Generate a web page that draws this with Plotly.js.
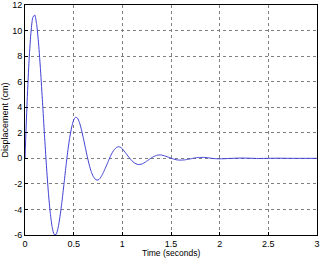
<!DOCTYPE html>
<html>
<head>
<meta charset="utf-8">
<script src="https://cdn.plot.ly/plotly-3.0.1.min.js"></script>
<style>html,body{margin:0;padding:0;background:#fff;}#chart{width:323px;height:258px;}</style>
</head>
<body>
<div id="chart"></div>
<script>
var timeSec = [0,0.02,0.04,0.06,0.08,0.10,0.12,0.14,0.16,0.18,0.20,0.22,0.24,0.26,0.28,0.30,0.32,0.34,0.36,0.38,0.40,0.42,0.44,0.46,0.48,0.50,0.52,0.54,0.56,0.58,0.60,0.62,0.64,0.66,0.68,0.70,0.72,0.74,0.76,0.78,0.80,0.82,0.84,0.86,0.88,0.90,0.92,0.94,0.96,0.98,1.00,1.04,1.08,1.12,1.16,1.20,1.24,1.28,1.32,1.36,1.40,1.44,1.48,1.52,1.56,1.60,1.64,1.68,1.72,1.76,1.80,1.84,1.88,1.92,1.96,2.00,2.10,2.20,2.30,2.40,2.50,2.60,2.70,2.80,2.90,3.00];
var displacementCm = [0,4.10,7.41,9.74,11.01,11.22,10.47,8.94,6.84,4.39,1.85,-0.56,-2.66,-4.31,-5.42,-5.96,-5.95,-5.44,-4.53,-3.36,-2.04,-0.67,0.59,1.65,2.45,3.00,3.22,3.14,2.79,2.24,1.56,0.84,0.13,-0.51,-1.03,-1.40,-1.62,-1.71,-1.65,-1.47,-1.19,-0.86,-0.51,-0.15,0.20,0.49,0.71,0.85,0.91,0.87,0.75,0.36,-0.03,-0.34,-0.48,-0.45,-0.28,-0.06,0.13,0.25,0.26,0.18,0.07,-0.04,-0.12,-0.14,-0.12,-0.07,-0.01,0.05,0.07,0.07,0.04,0.00,-0.03,-0.04,-0.01,0.02,0.01,-0.01,0.00,0.01,0.00,0.00,0.00,0.00];
var xTicks = [0,0.5,1,1.5,2,2.5,3];
var xTickText = ['0','0.5','1','1.5','2','2.5','3'];
var yTicks = [-6,-4,-2,0,2,4,6,8,10,12];
var yTickText = ['-6','-4','-2','0','2','4','6','8','10','12'];
var xTitle = 'Time (seconds)';
var yTitle = 'Displacement (cm)';

var fontFam = 'Liberation Sans, Arial, Helvetica, sans-serif';
var trace = {
  x: timeSec, y: displacementCm, type: 'scatter', mode: 'lines',
  line: {color: '#4040d4', width: 1, shape: 'spline', smoothing: 0.6},
  hoverinfo: 'none'
};
var axisCommon = {
  showgrid: true, gridcolor: '#7f7f7f', griddash: '3px,3px', gridwidth: 1,
  zeroline: false, showline: true, linecolor: '#000', linewidth: 1, mirror: true,
  ticks: 'inside', ticklen: 3, tickcolor: '#000',
  tickfont: {family: fontFam, size: 9, color: '#000'}, automargin: false
};
var layout = {
  width: 323, height: 258,
  margin: {l: 25, r: 6, t: 5, b: 23},
  paper_bgcolor: '#fff', plot_bgcolor: '#fff',
  showlegend: false,
  xaxis: Object.assign({}, axisCommon, {
    range: [0, 3], tickmode: 'array', tickvals: xTicks, ticktext: xTickText
  }),
  yaxis: Object.assign({}, axisCommon, {
    range: [-6, 12], tickmode: 'array', tickvals: yTicks, ticktext: yTickText,
    title: {text: yTitle, font: {family: fontFam, size: 9, color: '#000'}, standoff: 2}
  }),
  annotations: [{
    text: xTitle, xref: 'paper', yref: 'paper', x: 0.5, y: -0.078,
    xanchor: 'center', yanchor: 'middle', showarrow: false, borderpad: 0,
    font: {family: fontFam, size: 8.5, color: '#000'}
  }]
};
Plotly.newPlot('chart', [trace], layout, {staticPlot: true, displayModeBar: false});
</script>
</body>
</html>
